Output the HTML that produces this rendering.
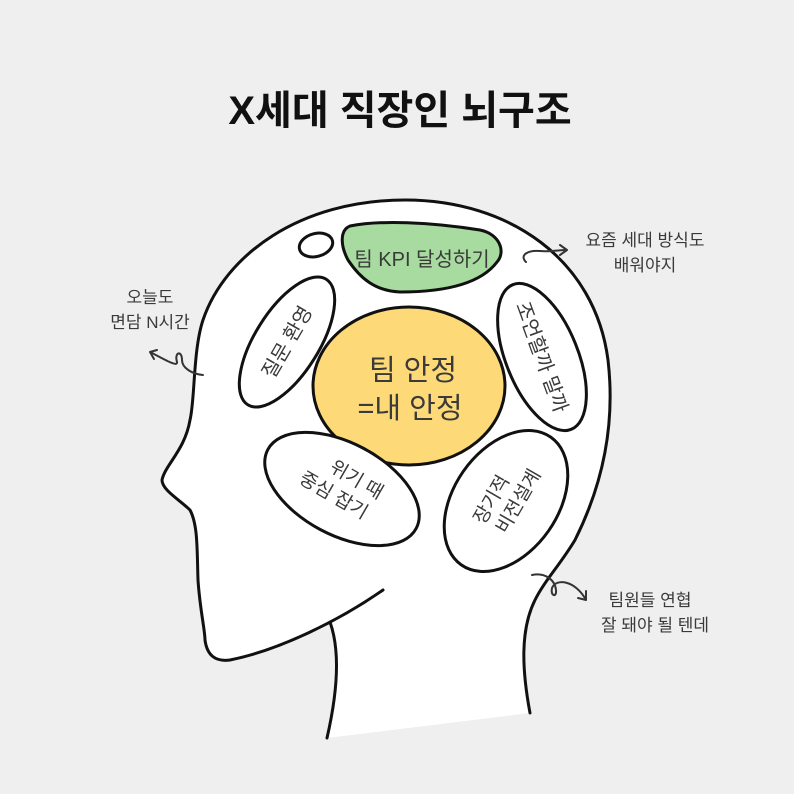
<!DOCTYPE html>
<html><head><meta charset="utf-8"><style>
html,body{margin:0;padding:0;background:#efefef;}
svg{display:block}
text{font-family:"Liberation Sans","Noto Sans CJK KR",sans-serif;fill:#3a3a3a;}
</style></head><body>
<svg width="794" height="794" viewBox="0 0 794 794" xmlns="http://www.w3.org/2000/svg">
<rect width="794" height="794" fill="#efefef"/>
<text x="400" y="124" text-anchor="middle" font-size="40" font-weight="bold" style="fill:#111">X세대 직장인 뇌구조</text>

<!-- head fill -->
<path d="M 530 713 C 522 670, 520 630, 535 600 C 545 580, 560 565, 575 540 C 605 480, 615 420, 608 360 C 595 260, 510 200, 405 200 C 300 200, 225 255, 203 320 C 193 350, 195 400, 190 420 C 185 450, 165 465, 162 480 C 162 490, 180 500, 190 510 C 198 525, 197 550, 198 580 C 200 610, 205 630, 205 640 C 207 655, 215 662, 230 660 C 280 650, 340 620, 383 590 L 330 622 C 340 650, 338 690, 327 738 Z" fill="#fff"/>
<path d="M 530 713 C 522 670, 520 630, 535 600 C 545 580, 560 565, 575 540 C 605 480, 615 420, 608 360 C 595 260, 510 200, 405 200 C 300 200, 225 255, 203 320 C 193 350, 195 400, 190 420 C 185 450, 165 465, 162 480 C 162 490, 180 500, 190 510 C 198 525, 197 550, 198 580 C 200 610, 205 630, 205 640 C 207 655, 215 662, 230 660 C 280 650, 340 620, 383 590" fill="none" stroke="#111" stroke-width="3" stroke-linecap="round"/>
<path d="M 330 622 C 340 650, 338 690, 327 738" fill="none" stroke="#111" stroke-width="3" stroke-linecap="round"/>

<!-- small oval -->
<ellipse cx="316" cy="245" rx="17" ry="11.5" transform="rotate(-15 316 245)" fill="#fff" stroke="#111" stroke-width="3"/>
<!-- green blob -->
<path d="M 350 226 C 380 220, 430 222, 480 230 C 500 234, 506 252, 497 262 C 482 282, 450 292, 400 292 C 375 291, 360 278, 348 260 C 340 245, 340 230, 350 226 Z" fill="#a8dba0" stroke="#111" stroke-width="3"/>
<text x="422" y="266" text-anchor="middle" font-size="20">팀 KPI 달성하기</text>

<!-- left lobe -->
<ellipse cx="287" cy="342" rx="74" ry="32" transform="rotate(-58 287 342)" fill="#fff" stroke="#111" stroke-width="3"/>
<text x="287" y="349" text-anchor="middle" font-size="20" transform="rotate(-60 287 342)">질문 환영</text>

<!-- yellow center -->
<ellipse cx="409" cy="386" rx="96" ry="79" fill="#fdd977" stroke="#111" stroke-width="3"/>
<text x="413" y="380" text-anchor="middle" font-size="29">팀 안정</text>
<text x="410" y="418" text-anchor="middle" font-size="29">=내 안정</text>

<!-- right lobe -->
<ellipse cx="542" cy="357" rx="78" ry="36" transform="rotate(68 542 357)" fill="#fff" stroke="#111" stroke-width="3"/>
<text x="542" y="364" text-anchor="middle" font-size="20" transform="rotate(70 542 357)">조언할까 말까</text>

<!-- bottom-left lobe -->
<ellipse cx="342" cy="489" rx="84" ry="46" transform="rotate(28 342 489)" fill="#fff" stroke="#111" stroke-width="3"/>
<text x="350" y="480" text-anchor="middle" font-size="19" transform="rotate(30 342 489)">위기 때</text>
<text x="338" y="505" text-anchor="middle" font-size="19" transform="rotate(30 342 489)">중심 잡기</text>

<!-- bottom-right lobe -->
<ellipse cx="506" cy="501" rx="78" ry="52" transform="rotate(-55 506 501)" fill="#fff" stroke="#111" stroke-width="3"/>
<text x="500" y="494" text-anchor="middle" font-size="19" transform="rotate(-60 506 501)">장기적</text>
<text x="512" y="518" text-anchor="middle" font-size="19" transform="rotate(-60 506 501)">비전설계</text>

<!-- annotations -->
<text x="150" y="303" text-anchor="middle" font-size="17">오늘도</text>
<text x="150" y="328" text-anchor="middle" font-size="17">면담 N시간</text>
<path d="M 203 375 C 192 374, 182 368, 182 360 C 182 350, 174 352, 177 362 C 178 368, 162 358, 150 352 M 150 352 L 157 350 M 150 352 L 154 359" fill="none" stroke="#333" stroke-width="2" stroke-linecap="round"/>

<text x="645" y="246" text-anchor="middle" font-size="17">요즘 세대 방식도</text>
<text x="645" y="271" text-anchor="middle" font-size="17">배워야지</text>
<path d="M 526 262 C 519 255, 528 250, 540 251 C 550 252, 558 250, 567 250 M 567 250 L 560 245 M 567 250 L 560 255" fill="none" stroke="#333" stroke-width="2" stroke-linecap="round"/>

<text x="650" y="606" text-anchor="middle" font-size="17">팀원들 연협</text>
<text x="655" y="631" text-anchor="middle" font-size="17">잘 돼야 될 텐데</text>
<path d="M 532 575 C 545 572, 555 580, 556 590 C 557 598, 550 596, 552 588 C 556 578, 575 580, 586 600 M 586 600 L 586 591 M 586 600 L 578 598" fill="none" stroke="#333" stroke-width="2" stroke-linecap="round"/>
</svg>
</body></html>
